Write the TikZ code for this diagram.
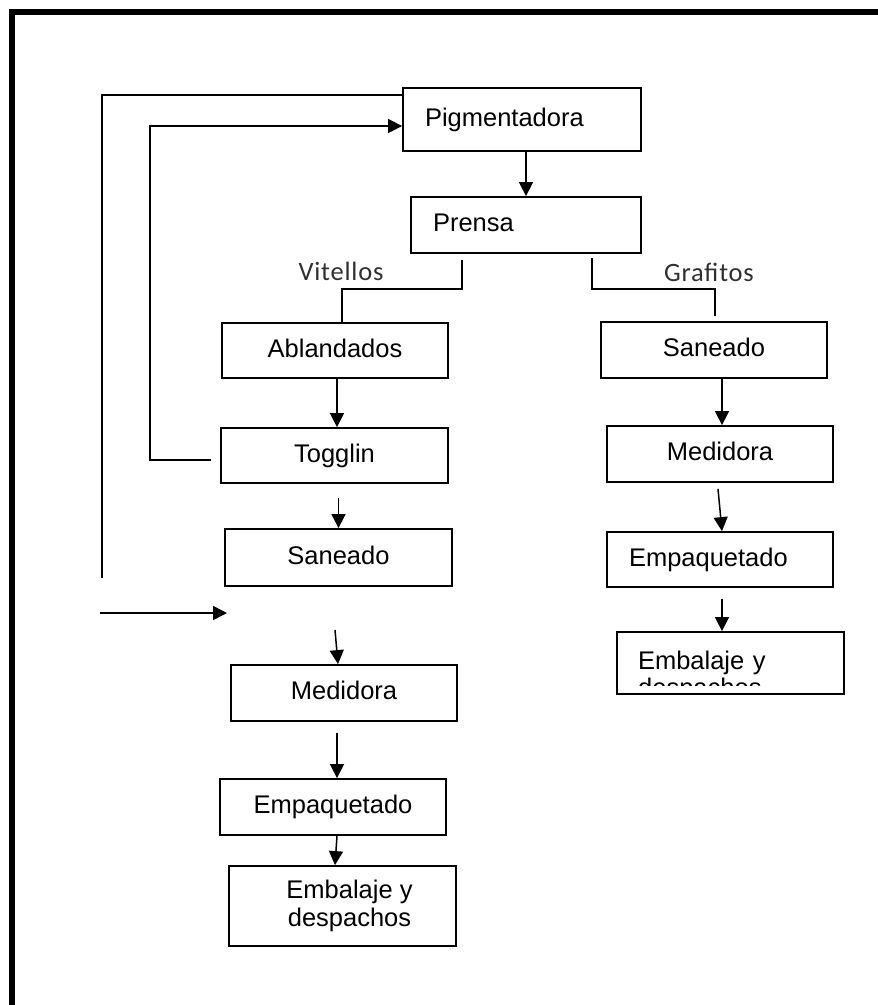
\documentclass[tikz,border=0pt]{standalone}
\usepackage{fontspec}
\setmainfont{Liberation Sans}
\newfontfamily\branchfont[LetterSpace=3]{Carlito}
\usetikzlibrary{arrows.meta}
\definecolor{branchgray}{RGB}{48,48,48}
\begin{document}
\begin{tikzpicture}[x=1pt,y=-1pt,
  framed/.style={draw=black, line width=1.8pt, inner sep=0pt,
    font=\fontsize{25.5}{28}\selectfont},
  box/.style={framed, text height=18.5pt, text depth=5.5pt},
  cbox/.style={box, align=center},
  lbox/.style={box, align=left, inner xsep=22pt},
  wire/.style={line width=1.5pt},
  arr/.style={wire, -{Triangle[length=14pt,width=14pt]}},
  branch/.style={font=\branchfont\fontsize{26.5}{28}\selectfont, text=branchgray, inner sep=0pt}
]
\useasboundingbox (0,0) rectangle (878,1005);
% page frame (top and left edges)
\fill[black] (9,9) rectangle (878,15);
\fill[black] (9,9) rectangle (15,1005);

% top of the process
\node[lbox, text width=194pt, minimum height=63pt] (pig) at (522,119.5) {Pigmentadora};
\node[lbox, text width=186pt, minimum height=56pt] (pre) at (526,225) {Prensa};

% left line: Vitellos
\node[cbox, minimum width=226pt, minimum height=55pt] (abl) at (335,350.5) {Ablandados};
\node[cbox, minimum width=227pt, minimum height=55pt] (tog) at (334.5,455.5) {Togglin};
\node[cbox, minimum width=227pt, minimum height=57pt] (sanL) at (338.5,557.5) {Saneado};
\node[cbox, minimum width=226pt, minimum height=56pt] (medL) at (344,693) {Medidora};
\node[cbox, minimum width=226pt, minimum height=56pt] (empL) at (333,807) {Empaquetado};
\node[framed, align=center, minimum width=227pt, minimum height=80pt] (embL) at (342.5,906)
  {\hspace*{14pt}Embalaje y\\\hspace*{14pt}despachos};

% right line: Grafitos
\node[cbox, minimum width=226pt, minimum height=56pt] (sanR) at (714,350) {Saneado};
\node[cbox, minimum width=226pt, minimum height=56pt] (medR) at (720,454) {Medidora};
\node[lbox, text width=182pt, minimum height=55pt] (empR) at (720,559.5) {Empaquetado};
\node[box, align=left, inner xsep=21pt, text width=185pt, minimum height=62pt] (embR) at (730.5,663) {Embalaje y};
\begin{scope}
  % second line of the text frame, cut off by the frame's lower edge
  \clip (embR.north west) rectangle (embR.east |- 0,685);
  \node[anchor=base west, inner sep=0pt, font=\fontsize{25.5}{28}\selectfont] (embRb) at (638,696) {despachos};
\end{scope}

% branch labels
\node[branch] (vit) at (341,271) {Vitellos};
\node[branch] (gra) at (709,272) {Grafitos};

% free ends of the open connectors
\coordinate (outerTop) at (102,95);
\coordinate (outerEnd) at (102,578);
\coordinate (innerStart) at (211,460);
\coordinate (innerCorner) at (150,460);
\coordinate (innerTop) at (150,126);
\coordinate (feedStart) at (100,613);
\coordinate (feedEnd) at (227,613);
\coordinate (splitL) at (462,260);
\coordinate (splitLc) at (462,289);
\coordinate (splitLd) at (342,289);
\coordinate (splitR) at (592,258);
\coordinate (splitRc) at (592,289);
\coordinate (splitRd) at (715,289);
\coordinate (toMedL) at (335,630);

% return loops to the pigment stage
\draw[wire] (pig.west |- outerTop) -- (outerTop) -- (outerEnd);
\draw[arr] (innerStart) -- (innerCorner) -- (innerTop) -- (pig.west |- innerTop);
\draw[arr] (feedStart) -- (feedEnd);

% main flow
\draw[arr] (pig.south -| pre.north) -- (pre.north);
\draw[wire] (splitL) -- (splitLc) -- (splitLd) -- (splitLd |- abl.north);
\draw[wire] (splitR) -- (splitRc) -- (splitRd) -- ([yshift=5pt]splitRd |- sanR.north);

\draw[arr] ([xshift=2pt]abl.south) -- ([xshift=2pt]abl.south |- tog.north);
\draw[arr] ([xshift=4pt,yshift=-14pt]tog.south) -- ([xshift=4pt]tog.south |- sanL.north);
\draw[arr] (toMedL) -- ([xshift=-6pt]medL.north);
\draw[arr] ([xshift=-7pt,yshift=-11pt]medL.south) -- ([xshift=-7pt]medL.south |- empL.north);
\draw[arr] ([xshift=4pt]empL.south) -- ([xshift=-7.5pt]embL.north);

\draw[arr] ([xshift=8pt]sanR.south) -- ([xshift=2pt]medR.north);
\draw[arr] ([xshift=-2pt,yshift=-6pt]medR.south) -- ([xshift=2pt]empR.north);
\draw[arr] ([xshift=2pt,yshift=-11pt]empR.south) -- ([xshift=2pt]empR.south |- embR.north);
\end{tikzpicture}
\end{document}
